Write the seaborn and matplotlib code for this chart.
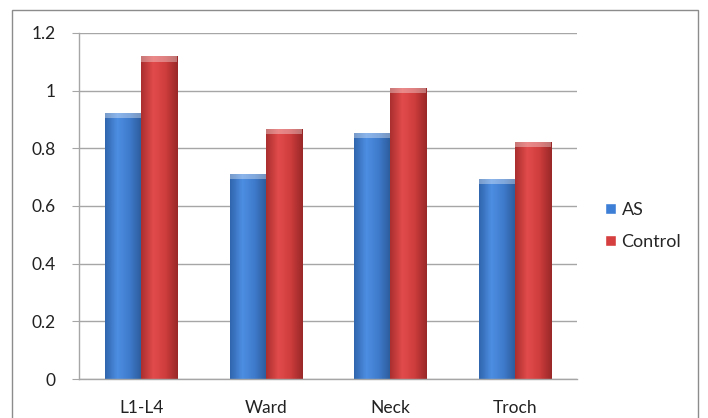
import numpy as np
import pandas as pd
import seaborn as sns
import matplotlib.pyplot as plt
from matplotlib.patches import Rectangle
from matplotlib.colors import LinearSegmentedColormap

sites = ["L1-L4", "Ward", "Neck", "Troch"]
as_vals = [0.922, 0.710, 0.853, 0.695]
control_vals = [1.119, 0.866, 1.009, 0.821]
groups = ["AS", "Control"]
yticks = [0, 0.2, 0.4, 0.6, 0.8, 1, 1.2]
ytick_labels = ["0", "0.2", "0.4", "0.6", "0.8", "1", "1.2"]

df = pd.DataFrame({
    "Site": sites * 2,
    "Group": [groups[0]] * len(sites) + [groups[1]] * len(sites),
    "Value": as_vals + control_vals,
})

sns.set_style("white")
plt.rcParams["font.family"] = ["Lato", "DejaVu Sans"]

fig = plt.figure(figsize=(7.08, 4.18), dpi=100)
ax = fig.add_axes([79 / 708, 1 - 379 / 418, 498 / 708, 346 / 418])

palette = {"AS": "#3d7fd6", "Control": "#d63f3f"}
sns.barplot(data=df, x="Site", y="Value", hue="Group", order=sites, hue_order=groups,
            palette=palette, width=0.58, ax=ax, saturation=1, legend=True)

# Excel-style shading: horizontal gradient clipped to each bar
grad_cols = {
    "AS": ["#3066ad", "#4d8ee2", "#3f7bcc", "#2c5b9a"],
    "Control": ["#ab2f2f", "#e24b4b", "#cf3d3d", "#992828"],
}
edge_cols = {"AS": "#2a5590", "Control": "#8e2424"}
xs = np.linspace(0, 1, 64).reshape(1, -1)
for cont, g in zip(ax.containers, groups):
    cmap = LinearSegmentedColormap.from_list(g, grad_cols[g])
    for bar in cont:
        x0, w, h = bar.get_x(), bar.get_width(), bar.get_height()
        bar.set_edgecolor(edge_cols[g])
        bar.set_linewidth(0.6)
        im = ax.imshow(xs, cmap=cmap, aspect="auto", extent=[x0, x0 + w, 0, h],
                       zorder=bar.get_zorder() + 0.1)
        im.set_clip_path(bar)
        # bevel on top
        ax.add_patch(Rectangle((x0, h - 0.018), w, 0.018,
                               facecolor="white", alpha=0.35, linewidth=0,
                               zorder=bar.get_zorder() + 0.2))

ax.set_xlim(-0.5, 3.5)
ax.set_ylim(0, 1.2)
ax.set_yticks(yticks)
ax.set_yticklabels(ytick_labels)
ax.set_xlabel("")
ax.set_ylabel("")
ax.grid(axis="y", color="#a6a6a6", linewidth=1)
ax.set_axisbelow(True)
for s in ["top", "right"]:
    ax.spines[s].set_visible(False)
for s in ["left", "bottom"]:
    ax.spines[s].set_color("#a6a6a6")
    ax.spines[s].set_linewidth(1)

ax.set_xticks([-0.5, 0.5, 1.5, 2.5, 3.5], minor=True)
ax.tick_params(axis="x", which="major", length=0, pad=15, labelsize=12.5, labelcolor="#222222")
ax.tick_params(axis="x", which="minor", length=6, color="#a6a6a6", direction="out")
ax.tick_params(axis="y", length=5, color="#a6a6a6", direction="out", pad=12,
               labelsize=12.5, labelcolor="#222222", left=True)

handles, labels = ax.get_legend_handles_labels()
ax.legend(handles, labels, loc="center left", bbox_to_anchor=(589 / 708, 1 - 226 / 418),
          bbox_transform=fig.transFigure, frameon=False, fontsize=13,
          handlelength=0.6, handleheight=0.6, handletextpad=0.3, labelspacing=0.9)

fig.patches.append(Rectangle((12 / 708, -0.01), 686 / 708, 1 - 10 / 418 + 0.01,
                             transform=fig.transFigure, fill=False,
                             edgecolor="#8c8c8c", linewidth=1))

fig.savefig("out.png", dpi=100)
